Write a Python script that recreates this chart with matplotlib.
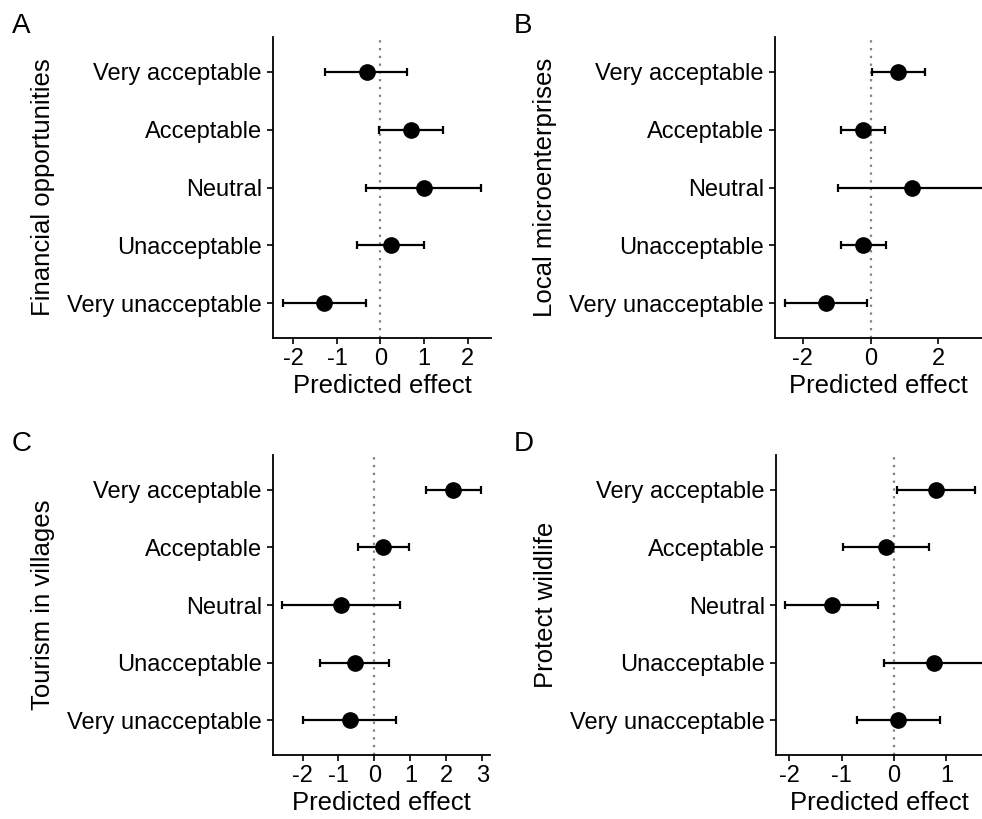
import matplotlib
matplotlib.use('Agg')
import matplotlib.pyplot as plt

plt.rcParams['font.family'] = ['Liberation Sans', 'DejaVu Sans']
plt.rcParams['axes.unicode_minus'] = False

levels = ['Very unacceptable', 'Unacceptable', 'Neutral', 'Acceptable', 'Very acceptable']

# estimates, lower and upper bounds, in order of levels (bottom to top)
fin_est = [-1.30, 0.25, 0.99, 0.70, -0.32]
fin_lo = [-2.25, -0.54, -0.34, -0.03, -1.27]
fin_hi = [-0.34, 1.00, 2.32, 1.44, 0.62]

micro_est = [-1.30, -0.22, 1.21, -0.22, 0.82]
micro_lo = [-2.52, -0.88, -0.95, -0.87, 0.05]
micro_hi = [-0.10, 0.45, 3.37, 0.42, 1.59]

tour_est = [-0.69, -0.55, -0.92, 0.25, 2.19]
tour_lo = [-1.99, -1.52, -2.56, -0.45, 1.43]
tour_hi = [0.60, 0.39, 0.72, 0.97, 2.95]

wild_est = [0.08, 0.77, -1.19, -0.15, 0.80]
wild_lo = [-0.70, -0.19, -2.07, -0.98, 0.05]
wild_hi = [0.87, 1.73, -0.31, 0.67, 1.54]

panels = [
    ('A', 'Financial opportunities', fin_est, fin_lo, fin_hi, (-2.47, 2.54), [-2, -1, 0, 1, 2]),
    ('B', 'Local microenterprises', micro_est, micro_lo, micro_hi, (-2.81, 3.28), [-2, 0, 2]),
    ('C', 'Tourism in villages', tour_est, tour_lo, tour_hi, (-2.82, 3.21), [-2, -1, 0, 1, 2, 3]),
    ('D', 'Protect wildlife', wild_est, wild_lo, wild_hi, (-2.25, 1.68), [-2, -1, 0, 1]),
]

W, H = 982, 819
fig = plt.figure(figsize=(W / 100, H / 100), dpi=100)

# axes boxes in pixels: left, right, top, bottom
boxes = [
    (273, 491, 37, 338),
    (775, 982, 37, 338),
    (273, 490, 455, 755),
    (776, 982, 455, 755),
]
letter_pos = [(12, 13), (514, 13), (12, 431), (514, 431)]

for (letter, ylab, est, lo, hi, xlim, xticks), (l, r, t, b), (lx, ly) in zip(panels, boxes, letter_pos):
    ax = fig.add_axes([l / W, 1 - b / H, (r - l) / W, (b - t) / H])
    ypos = list(range(1, len(levels) + 1))
    xerr = [[e - a for e, a in zip(est, lo)], [c - e for e, c in zip(est, hi)]]
    ax.axvline(0, color='#808080', linestyle=(0, (1, 2.5)), linewidth=1.6, zorder=1)
    ax.errorbar(est, ypos, xerr=xerr, fmt='o', color='black', markersize=11,
                elinewidth=1.6, capsize=3, capthick=1.6, zorder=3)
    ax.set_xlim(*xlim)
    ax.set_ylim(0.4, 5.6)
    ax.set_xticks(xticks)
    ax.set_xticklabels([str(v) for v in xticks])
    ax.set_yticks(ypos)
    ax.set_yticklabels(levels)
    ax.tick_params(axis='both', labelsize=17, length=4, width=1.2, colors='black', pad=3)
    ax.tick_params(axis='y', pad=4)
    ax.spines['top'].set_visible(False)
    ax.spines['right'].set_visible(False)
    for s in ['left', 'bottom']:
        ax.spines[s].set_linewidth(1.3)
    ax.set_xlabel('Predicted effect', fontsize=18.5, labelpad=3)
    ax.set_ylabel(ylab, fontsize=18.5, labelpad=9)
    fig.text(lx / W, 1 - ly / H, letter, fontsize=20, ha='left', va='top')

fig.savefig('out.png', dpi=100)
